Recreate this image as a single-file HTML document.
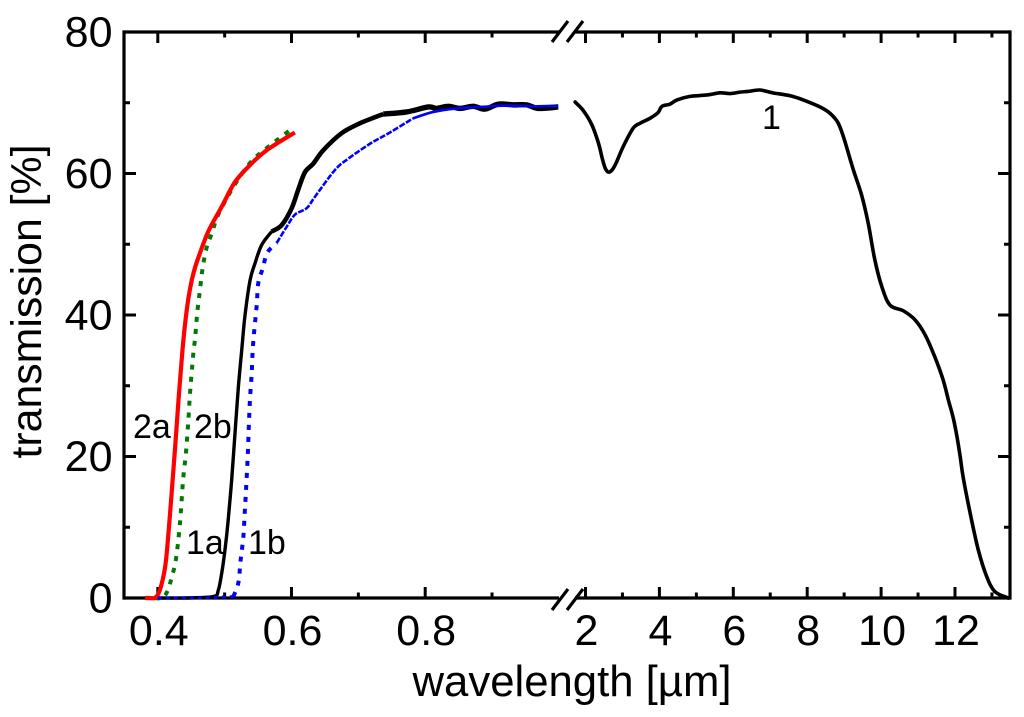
<!DOCTYPE html>
<html lang="en">
<head>
<meta charset="utf-8">
<title>Transmission vs wavelength</title>
<style>
html,body{margin:0;padding:0;background:#fff;}
svg{display:block;}
text{font-family:"Liberation Sans",sans-serif;fill:#000;}
</style>
</head>
<body>
<svg id="chart" width="1024" height="717" viewBox="0 0 1024 717" xmlns="http://www.w3.org/2000/svg">
  <g id="frame"></g>
  <g id="ticks"></g>
  <g id="series"></g>
  <g id="labels"></g>
  <text x="572" y="696" font-size="43.7" text-anchor="middle">wavelength [µm]</text>
  <text transform="translate(41,301.5) rotate(-90)" font-size="42.8" text-anchor="middle">transmission [%]</text>
  <text x="133" y="438" font-size="34">2a</text>
  <text x="194" y="438" font-size="34">2b</text>
  <text x="186" y="554" font-size="34">1a</text>
  <text x="248" y="554" font-size="34">1b</text>
  <text x="762" y="129" font-size="34">1</text>
</svg>
<script>
// y axis
const yMajorTicks = [0, 20, 40, 60, 80];
const yMinorTicks = [10, 30, 50, 70];
// x axis, visible range (left panel)
const xLeftMajorTicks = [0.4, 0.6, 0.8];
const xLeftMinorTicks = [0.5, 0.7, 0.9];
// x axis, infrared range (right panel)
const xRightMajorTicks = [2, 4, 6, 8, 10, 12];
const xRightMinorTicks = [3, 5, 7, 9, 11, 13];

// curve 2a (red)
const wl2a = [0.381,0.388,0.396,0.403,0.411,0.416,0.421,0.426,0.431,0.437,0.441,0.446,0.451,0.456,0.461,0.4755,0.4956,0.5155,0.538,0.563,0.605];
const tr2a = [0,0,0.05,1.1,4.4,9.2,15.2,21.4,28,35.1,38.9,42.5,45,46.8,48.2,51.8,55.3,58.8,61.2,63.3,65.8];
// curve 2b (green dotted)
const wl2b = [0.395,0.407,0.415,0.421,0.427,0.433,0.438,0.442,0.446,0.448,0.453,0.456,0.459,0.463,0.467,0.473,0.481,0.4905,0.513,0.538,0.563,0.603];
const tr2b = [0,0,1.1,3,5.4,10.4,16.9,20.4,25.5,28.7,34.4,36.9,40.3,43.5,46.6,49.5,51.6,54.2,58.1,61.5,63.6,66.5];
// curve 1a (black, visible range)
const wl1a = [0.40,0.44,0.483,0.4905,0.4956,0.5005,0.505,0.5105,0.5155,0.5204,0.5255,0.5304,0.538,0.5454,0.5554,0.5704,0.5853,0.6003,0.61,0.6202,0.6326,0.6476,0.675,0.7025,0.7373,0.7723,0.8046,0.8172,0.8346,0.852,0.872,0.8895,0.9094,0.9318,0.9518,0.969,0.999];
const tr1a = [0,0,0.2,1.1,3.5,6.8,10.7,16.7,23.3,29.7,35,39.9,44.9,47.3,49.9,51.8,52.7,55.1,57.7,60.2,61.4,63.3,65.7,67.1,68.4,68.7,69.4,69.2,69.5,69.2,69.5,69.1,69.8,69.7,69.7,69.2,69.4];
// curve 1b (blue dotted)
const wl1b = [0.40,0.46,0.513,0.5204,0.524,0.528,0.530,0.532,0.5345,0.5364,0.538,0.5405,0.542,0.5444,0.548,0.5503,0.557,0.5638,0.578,0.593,0.6053,0.6227,0.635,0.665,0.685,0.7174,0.7473,0.782,0.812,0.847,0.882,0.922,0.962,0.999];
const tr1b = [0,0,0.2,2.1,5.4,8.7,12,15.3,20,24.9,28.3,31.8,35.1,37.9,41.4,44.5,46.6,48.8,50.2,52.5,54.2,55.1,56.7,60.5,62.1,64.2,65.8,67.8,68.7,69.2,69.4,69.6,69.5,69.6];
// curve 1 (black, infrared range)
const wl1 = [1.72,1.94,2.17,2.35,2.45,2.53,2.62,2.72,2.83,3.02,3.29,3.475,3.746,3.962,4.07,4.287,4.476,4.83,5.29,5.64,5.91,6.18,6.40,6.72,7.07,7.53,7.89,8.35,8.62,8.83,8.98,9.25,9.47,9.65,9.83,10.02,10.24,10.60,10.92,11.19,11.46,11.68,11.82,11.95,12.05,12.14,12.22,12.41,12.63,12.86,13.08,13.44];
const tr1 = [70.1,68.9,66.9,64.3,62.2,60.8,60.2,60.5,61.5,63.8,66.4,67.1,67.8,68.6,69.5,69.8,70.4,70.9,71.1,71.4,71.3,71.5,71.6,71.8,71.4,71,70.4,69.4,68.5,67.2,65.2,60.5,57,53,47.8,44,41.4,40.6,39.3,37.2,34,30.8,28,25.5,22.9,20,17.1,12,6.8,3,0.9,0];

const SVGNS = 'http://www.w3.org/2000/svg';
const yAxis = t => 598 - t * 7.075;
const xLeft = w => 157.8 + (w - 0.4) * 668.5;
const xRight = w => 585.5 + (w - 2) * 36.95;

function make(tag, attrs, parent) {
  const el = document.createElementNS(SVGNS, tag);
  for (const k in attrs) el.setAttribute(k, attrs[k]);
  parent.appendChild(el);
  return el;
}
function smooth(pts) {
  let d = 'M' + pts[0][0].toFixed(2) + ' ' + pts[0][1].toFixed(2);
  for (let i = 0; i < pts.length - 1; i++) {
    const p0 = pts[Math.max(i - 1, 0)], p1 = pts[i], p2 = pts[i + 1], p3 = pts[Math.min(i + 2, pts.length - 1)];
    const c1x = p1[0] + (p2[0] - p0[0]) / 6, c1y = p1[1] + (p2[1] - p0[1]) / 6;
    const c2x = p2[0] - (p3[0] - p1[0]) / 6, c2y = p2[1] - (p3[1] - p1[1]) / 6;
    d += 'C' + c1x.toFixed(2) + ' ' + c1y.toFixed(2) + ' ' + c2x.toFixed(2) + ' ' + c2y.toFixed(2) + ' ' + p2[0].toFixed(2) + ' ' + p2[1].toFixed(2);
  }
  return d;
}
function curve(wl, tr, xf, from, to, style, name) {
  const pts = [];
  wl.forEach((w, i) => { if (w >= from && w <= to) pts.push([xf(w), yAxis(tr[i])]); });
  const el = make('path', Object.assign({ d: smooth(pts), fill: 'none', 'stroke-linejoin': 'round' }, style), document.getElementById('series'));
  
  
}

// frame
const frame = document.getElementById('frame');
const LW = { stroke: '#000', 'stroke-width': 3.2 };
const frameLines = [
  [124, 30.4, 124, 599.6, 'left-axis-line'],
  [1010, 30.4, 1010, 599.6, 'right-axis-line'],
  [124, 32, 559, 32, 'top-axis-line-left'],
  [575, 32, 1010, 32, 'top-axis-line-right'],
  [124, 598, 559, 598, 'bottom-axis-line-left'],
  [575, 598, 1010, 598, 'bottom-axis-line-right'],
  [552, 42, 568, 21, 'top-break-mark-1'],
  [567, 42, 583, 21, 'top-break-mark-2'],
  [552, 610, 568, 589, 'bottom-break-mark-1'],
  [567, 610, 583, 589, 'bottom-break-mark-2']
];
frameLines.forEach(f => {
  const el = make('line', Object.assign({ x1: f[0], y1: f[1], x2: f[2], y2: f[3] }, LW), frame);
  
  
});

// ticks
const ticks = document.getElementById('ticks');
function xTick(px, len) {
  const a = make('line', { x1: px, y1: 598, x2: px, y2: 598 - len, stroke: '#000', 'stroke-width': 3 }, ticks);
  
  
  const b = make('line', { x1: px, y1: 32, x2: px, y2: 32 + len, stroke: '#000', 'stroke-width': 3 }, ticks);
  
  
}
function yTick(py, len) {
  const a = make('line', { x1: 124, y1: py, x2: 124 + len, y2: py, stroke: '#000', 'stroke-width': 3 }, ticks);
  
  
  const b = make('line', { x1: 1010, y1: py, x2: 1010 - len, y2: py, stroke: '#000', 'stroke-width': 3 }, ticks);
  
  
}
xLeftMajorTicks.forEach(v => xTick(xLeft(v), 11));
xLeftMinorTicks.forEach(v => xTick(xLeft(v), 5.5));
xRightMajorTicks.forEach(v => xTick(xRight(v), 11));
xRightMinorTicks.forEach(v => xTick(xRight(v), 5.5));
yMajorTicks.forEach(v => yTick(yAxis(v), 12));
yMinorTicks.forEach(v => yTick(yAxis(v), 6));

// tick labels
const labels = document.getElementById('labels');
function label(txt, x, y, anchor, name) {
  const el = make('text', { x: x, y: y, 'font-size': 43, 'text-anchor': anchor }, labels);
  el.textContent = txt;
  
  
}
yMajorTicks.forEach(v => label(String(v), 112.5, yAxis(v) + 14.5, 'end', 'y-tick-label'));
xLeftMajorTicks.forEach(v => label(v.toFixed(1), xLeft(v) + 1, 645, 'middle', 'x-tick-label'));
xRightMajorTicks.forEach(v => label(String(v), xRight(v) + 1, 645, 'middle', 'x-tick-label'));

// series
curve(wl2b, tr2b, xLeft, 0, 2, { stroke: '#007a00', 'stroke-width': 4, 'stroke-dasharray': '5 7' }, 'curve-2b');
curve(wl2a, tr2a, xLeft, 0, 2, { stroke: '#ff0000', 'stroke-width': 4.2 }, 'curve-2a');
curve(wl1a, tr1a, xLeft, 0, 0.5704, { stroke: '#000', 'stroke-width': 3.4 }, 'curve-1a-edge');
curve(wl1a, tr1a, xLeft, 0.5704, 0.7373, { stroke: '#000', 'stroke-width': 4.6 }, 'curve-1a-rise');
curve(wl1a, tr1a, xLeft, 0.7373, 2, { stroke: '#000', 'stroke-width': 5.4 }, 'curve-1a-plateau');
curve(wl1b, tr1b, xLeft, 0, 0.513, { stroke: '#0000ff', 'stroke-width': 3, 'stroke-dasharray': '4 4' }, 'curve-1b-baseline');
curve(wl1b, tr1b, xLeft, 0.513, 0.578, { stroke: '#0000ff', 'stroke-width': 4, 'stroke-dasharray': '5 7' }, 'curve-1b-edge');
curve(wl1b, tr1b, xLeft, 0.578, 0.782, { stroke: '#0000ff', 'stroke-width': 2.6, 'stroke-dasharray': '6 1.5' }, 'curve-1b-rise');
curve(wl1b, tr1b, xLeft, 0.782, 2, { stroke: '#0000ff', 'stroke-width': 2.6 }, 'curve-1b-plateau');
curve(wl1, tr1, xRight, 0, 20, { stroke: '#000', 'stroke-width': 3.6, 'stroke-linecap': 'round' }, 'curve-1');
</script>
</body>
</html>
